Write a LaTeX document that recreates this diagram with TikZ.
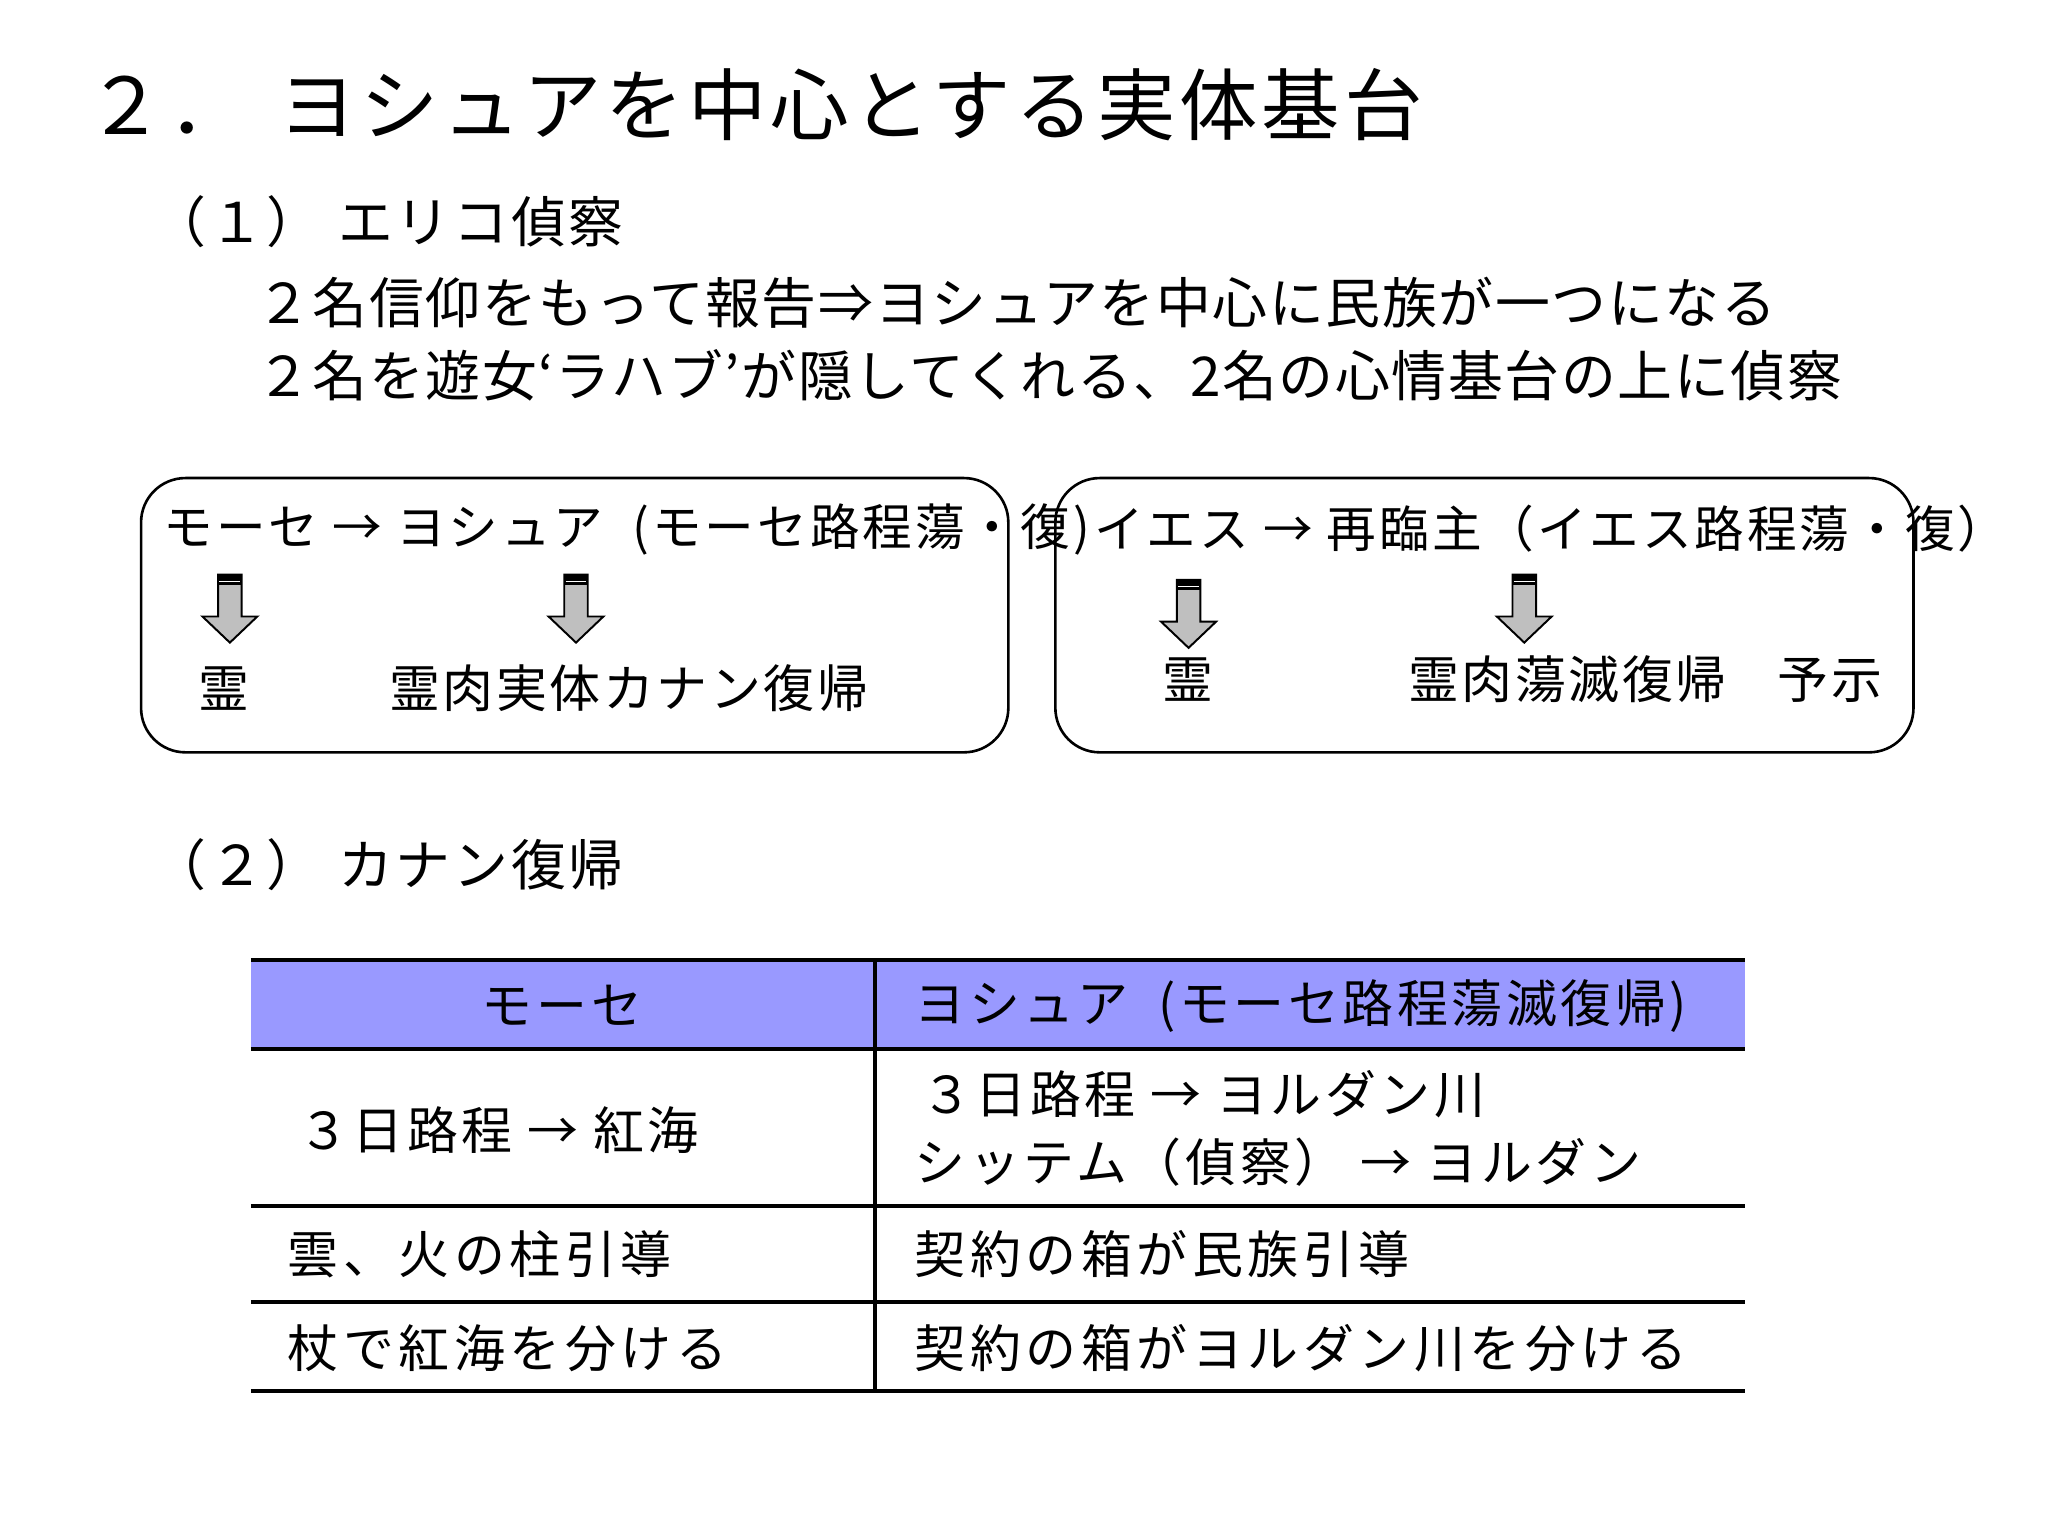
\documentclass[tikz,border=0pt]{standalone}
\usepackage{fontspec}
\setmainfont{Noto Sans CJK JP}
\begin{document}
\begin{tikzpicture}[x=1pt,y=-1pt,
  txt/.style={anchor=west,inner sep=0pt,font=\fontsize{#1}{#1}\selectfont},
  ls/.style={font=\fontsize{36}{36}\selectfont\addfontfeature{LetterSpace=#1}},
  tt/.style={font=\fontsize{39}{39}\selectfont\addfontfeature{LetterSpace=#1}},
  rbox/.style={draw,line width=2pt,rounded corners=34pt},
  barrow/.style={draw,line width=1.5pt,fill=gray!50},
  tline/.style={line width=3pt}]
\useasboundingbox (0,0) rectangle (1568,1176);
\node[txt=60,font=\fontsize{60}{60}\selectfont\addfontfeature{LetterSpace=5}] (title) at (66,80) {２．\hspace{0.4em}ヨシュアを中心とする実体基台};
\node[txt=42,font=\fontsize{42}{42}\selectfont\addfontfeature{LetterSpace=5}] (h1) at (116,170) {（１）\hspace{0.3em}エリコ偵察};
\node[txt=42,font=\fontsize{42}{42}\selectfont\addfontfeature{LetterSpace=3}] (l1) at (196,232) {２名信仰をもって報告⇒ヨシュアを中心に民族が一つになる};
\node[txt=42,font=\fontsize{42}{42}\selectfont\addfontfeature{LetterSpace=3}] (l2) at (196,287) {２名を遊女‘ラハブ’が隠してくれる、2名の心情基台の上に偵察};
\draw[rbox] (108,366) rectangle (772,576);
\draw[rbox] (808,366) rectangle (1465,576);
\node[txt=38,font=\fontsize{38}{38}\selectfont\addfontfeature{LetterSpace=6}] (b1t) at (125,405) {モーセ → ヨシュア\hspace{0.6em}(モーセ路程蕩・復)};
\node[txt=38,font=\fontsize{38}{38}\selectfont\addfontfeature{LetterSpace=6}] (b2t) at (838,405) {イエス → 再臨主（イエス路程蕩・復）};
\foreach \x/\t/\b in {176/440/492, 441/440/492, 910/444/496, 1167/440/492}{
  \draw[barrow] (\x-9,\t) -- (\x+9,\t) -- (\x+9,\b-20) -- (\x+21,\b-20) -- (\x,\b) -- (\x-21,\b-20) -- (\x-9,\b-20) -- cycle;
  \fill (\x-9,\t) rectangle (\x+9,\t+8);
  \draw[white,line width=0.8pt] (\x-8,\t+5) -- (\x+8,\t+5);
}
\node[txt=39] (s1) at (152,527) {霊};
\node[txt=39,tt=5] (r1) at (298,527) {霊肉実体カナン復帰};
\node[txt=39] (s2) at (890,520) {霊};
\node[txt=39,tt=5] (r2) at (1078,520) {霊肉蕩滅復帰\hspace{1em}予示};
\node[txt=42,font=\fontsize{42}{42}\selectfont\addfontfeature{LetterSpace=5}] (h2) at (116,662) {（２）\hspace{0.3em}カナン復帰};
\fill[fill={rgb,255:red,153;green,153;blue,255}] (192,735) rectangle (1336,803);
\foreach \y in {735,803,923,997,1065}{\draw[tline] (192,\y) -- (1336,\y);}
\draw[tline] (670,735) -- (670,1065);
\node[tt=8,inner sep=0pt] (c1) at (430,770) {モーセ};
\node[txt=39,tt=7] (c2) at (700,770) {ヨシュア\hspace{0.6em}(モーセ路程蕩滅復帰)};
\node[txt=39,tt=7] (a1) at (228,865) {３日路程 → 紅海};
\node[txt=39,tt=7] (a2) at (705,838) {３日路程 → ヨルダン川};
\node[txt=39,tt=7] (a3) at (700,890) {シッテム（偵察）\hspace{0.3em}→ ヨルダン};
\node[txt=39,tt=9] (b1) at (220,960) {雲、火の柱引導};
\node[txt=39,tt=9] (b2) at (700,960) {契約の箱が民族引導};
\node[txt=39,tt=9] (d1) at (220,1032) {杖で紅海を分ける};
\node[txt=39,tt=9] (d2) at (700,1032) {契約の箱がヨルダン川を分ける};
\end{tikzpicture}
\end{document}
